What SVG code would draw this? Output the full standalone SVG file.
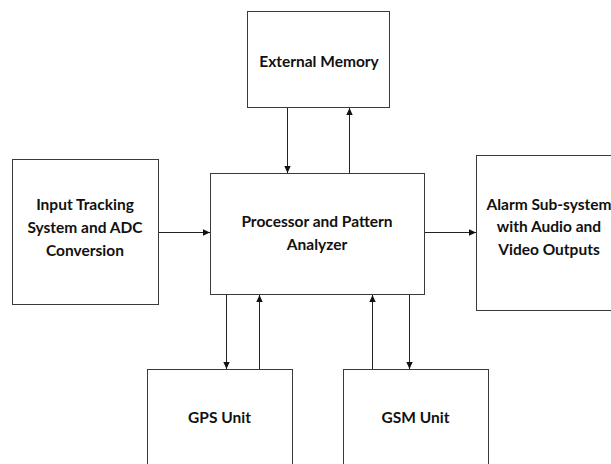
<svg xmlns="http://www.w3.org/2000/svg" width="611" height="464" viewBox="0 0 611 464">
  <defs>
    <marker id="arrow" markerUnits="userSpaceOnUse" markerWidth="8" markerHeight="8" refX="7" refY="4" orient="auto">
      <path d="M0,0.8 L7,4 L0,7.2 Z" fill="#111"/>
    </marker>
    <style>
      .box { fill: #fff; stroke: #3a3a3a; stroke-width: 1; }
      .lbl { font-family: Lato, "Liberation Sans", Arial, sans-serif; font-weight: 700; font-size: 15.5px; fill: #111; text-anchor: middle; }
      .wire { fill: none; stroke: #222; stroke-width: 1; marker-end: url(#arrow); }
    </style>
  </defs>
  <rect width="611" height="464" fill="#fff"/>

  <g id="external-memory">
    <rect class="box" x="247.5" y="11.5" width="142" height="96"/>
    <text class="lbl" x="319" y="67">External Memory</text>
  </g>

  <g id="input-tracking">
    <rect class="box" x="12.5" y="159.5" width="146" height="145"/>
    <text class="lbl" x="85" y="210">Input Tracking</text>
    <text class="lbl" x="85" y="233">System and ADC</text>
    <text class="lbl" x="85" y="256">Conversion</text>
  </g>

  <g id="processor">
    <rect class="box" x="210.5" y="173.5" width="214" height="121"/>
    <text class="lbl" x="317" y="227">Processor and Pattern</text>
    <text class="lbl" x="317" y="250">Analyzer</text>
  </g>

  <g id="alarm">
    <rect class="box" x="476.5" y="155.5" width="150" height="155"/>
    <text class="lbl" x="549" y="210">Alarm Sub-system</text>
    <text class="lbl" x="549" y="232">with Audio and</text>
    <text class="lbl" x="549" y="255">Video Outputs</text>
  </g>

  <g id="gps">
    <rect class="box" x="147.5" y="369.5" width="145" height="110"/>
    <text class="lbl" x="219.5" y="423">GPS Unit</text>
  </g>

  <g id="gsm">
    <rect class="box" x="343.5" y="369.5" width="145" height="110"/>
    <text class="lbl" x="415.5" y="423">GSM Unit</text>
  </g>

  <g id="connectors">
    <!-- memory <-> processor -->
    <line class="wire" x1="287.5" y1="108" x2="287.5" y2="173"/>
    <line class="wire" x1="349.5" y1="173" x2="349.5" y2="108"/>
    <!-- input -> processor -> alarm -->
    <line class="wire" x1="159" y1="232.5" x2="210" y2="232.5"/>
    <line class="wire" x1="425" y1="232.5" x2="476" y2="232.5"/>
    <!-- processor <-> GPS -->
    <line class="wire" x1="226.5" y1="295" x2="226.5" y2="369"/>
    <line class="wire" x1="259.5" y1="369" x2="259.5" y2="295"/>
    <!-- processor <-> GSM -->
    <line class="wire" x1="372.5" y1="369" x2="372.5" y2="295"/>
    <line class="wire" x1="409.5" y1="295" x2="409.5" y2="369"/>
  </g>
</svg>
